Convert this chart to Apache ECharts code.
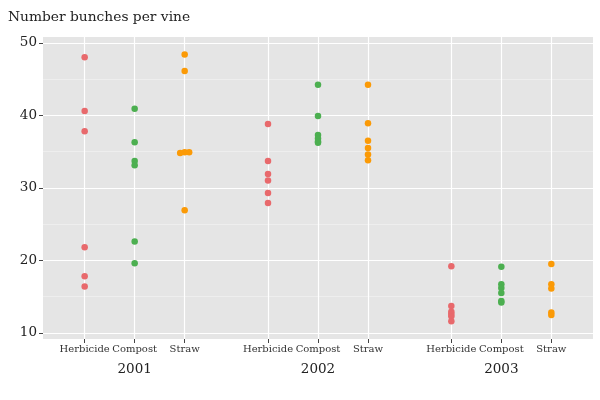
<!DOCTYPE html>
<html>
<head>
<meta charset="utf-8">
<script src="https://cdn.jsdelivr.net/npm/echarts@6/dist/echarts.min.js"></script>
<style>html,body{margin:0;padding:0;background:#fff}#main{width:600px;height:400px}</style>
</head>
<body>
<div id="main"></div>
<script>
let years = ['2001', '2002', '2003']
let treatments = ['Herbicide', 'Compost', 'Straw']
// bunches per vine, one inner array per year
let herbicide = [
  [48.0, 40.6, 37.8, 21.8, 17.8, 16.4],
  [38.8, 33.7, 31.9, 31.0, 29.3, 27.9],
  [19.2, 13.7, 12.9, 12.6, 12.3, 11.6]
]
let compost = [
  [40.9, 36.3, 33.7, 33.1, 22.6, 19.6],
  [44.2, 39.9, 37.3, 36.8, 36.4, 36.2],
  [19.1, 16.7, 16.2, 15.5, 14.4, 14.2]
]
let straw = [
  [48.4, 46.1, 34.9, 34.8, 34.9, 26.9],
  [44.2, 38.9, 36.5, 35.5, 34.6, 33.8],
  [19.5, 16.7, 16.1, 12.8, 12.45]
]
let majorTicks = [10, 20, 30, 40, 50]
let minorTicks = [15, 25, 35, 45]

let colors = ['#e8696c', '#4caf50', '#fb9a06']
let font = 'DejaVu Serif'
let plotLeft = 43, plotW = 550, plotTop = 37, plotBottom = 61
let yMin = 9.15, yMax = 50.8

// push tied points sideways, like a small beeswarm
function spread(vals){
  let sorted = vals.map((v, i) => [v, i]).sort((a, b) => a[0] - b[0])
  let off = vals.map(() => 0)
  let k = 0
  while(k < sorted.length){
    let j = k
    while(j + 1 < sorted.length && sorted[j + 1][0] - sorted[j][0] < 0.15) j++
    let n = j - k + 1
    for(let m = k; m <= j; m++) off[sorted[m][1]] = (m - k - (n - 1) / 2) * 4.5
    k = j + 1
  }
  return off
}

let groups = [herbicide, compost, straw]
let grids = [{left: plotLeft, width: plotW, top: plotTop, bottom: plotBottom, show: true,
  backgroundColor: '#e5e5e5', borderWidth: 0, outerBoundsMode: 'none'}]
let xAxes = [{
  type: 'category', gridIndex: 0, data: years, boundaryGap: true,
  axisLine: {show: false}, axisTick: {show: false}, splitLine: {show: false},
  axisLabel: {margin: 23, fontSize: 13.5, color: '#222', fontFamily: font}
}]
let yAxes = [{
  type: 'value', gridIndex: 0, min: yMin, max: yMax,
  axisLine: {show: false},
  axisTick: {show: true, length: 4, customValues: majorTicks, lineStyle: {color: '#444'}},
  axisLabel: {customValues: majorTicks, fontSize: 13.5, color: '#222', fontFamily: font, margin: 6},
  splitLine: {show: true, lineStyle: {color: '#fff', width: 1.2}}
}, {
  type: 'value', gridIndex: 0, min: yMin, max: yMax,
  axisLine: {show: false},
  axisTick: {show: false, customValues: minorTicks},
  axisLabel: {show: false, customValues: minorTicks},
  splitLine: {show: true, lineStyle: {color: '#f4f4f4', width: 0.6}}
}]
let series = []

years.forEach((y, i) => {
  grids.push({left: plotLeft + plotW / 3 * (i + 0.5) - 50, width: 100, top: plotTop, bottom: plotBottom,
    outerBoundsMode: 'none'})
  xAxes.push({
    type: 'category', gridIndex: i + 1, data: treatments, boundaryGap: false,
    axisLine: {show: false},
    axisTick: {show: true, interval: 0, length: 4, lineStyle: {color: '#444'}},
    axisLabel: {interval: 0, hideOverlap: false, margin: 5, fontSize: 10, color: '#333', fontFamily: font},
    splitLine: {show: true, interval: 0, lineStyle: {color: '#fff', width: 1.2}}
  })
  yAxes.push({type: 'value', gridIndex: i + 1, min: yMin, max: yMax, show: false})
  groups.forEach((g, t) => {
    let off = spread(g[i])
    series.push({
      type: 'scatter', xAxisIndex: i + 1, yAxisIndex: i + 2,
      symbolSize: 6.5, silent: true,
      itemStyle: {color: colors[t], opacity: 1},
      data: g[i].map((v, k) => ({value: [treatments[t], v], symbolOffset: [off[k], 0]}))
    })
  })
})

let myChart = echarts.init(document.getElementById('main'))
let option = {
  animation: false,
  title: {
    text: 'Number bunches per vine',
    left: 3, top: 5,
    textStyle: {fontFamily: font, fontSize: 13.8, fontWeight: 'normal', color: '#222'}
  },
  grid: grids,
  xAxis: xAxes,
  yAxis: yAxes,
  series
}
myChart.setOption(option)
</script>
</body>
</html>
